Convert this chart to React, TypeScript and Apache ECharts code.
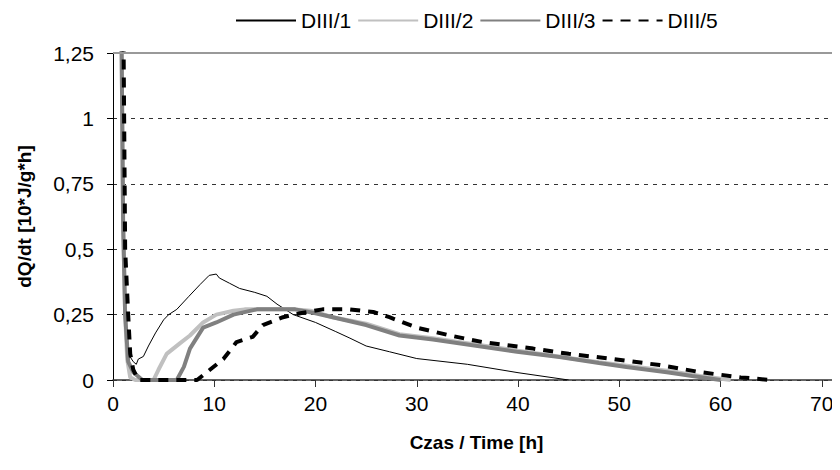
import React, { useEffect, useRef } from "react";
import * as echarts from "echarts";

const seriesNames = ["DIII/1", "DIII/2", "DIII/3", "DIII/5"];
const xTicks = [0, 10, 20, 30, 40, 50, 60, 70];
const yTicks = [0, 0.25, 0.5, 0.75, 1, 1.25];

const d1: number[][] = [
  [0.7, 1.5], [0.9, 1.0], [1.0, 0.5], [1.2, 0.25], [1.5, 0.1], [2.0, 0.07], [2.3, 0.06], [2.5, 0.08],
  [3.0, 0.09], [3.5, 0.13], [4.2, 0.18], [5, 0.23], [5.5, 0.25], [6.3, 0.27], [7.5, 0.32], [8.6, 0.365],
  [9.5, 0.4], [10.2, 0.405], [10.5, 0.39], [11.5, 0.37], [12.5, 0.35], [14, 0.335], [15.2, 0.32],
  [16.2, 0.29], [17.8, 0.25], [20, 0.22], [22, 0.185], [23.4, 0.16], [25, 0.13], [27.3, 0.108],
  [30, 0.082], [35, 0.06], [40, 0.028], [45, 0],
];
const d2: number[][] = [
  [0.8, 1.5], [1.0, 0.6], [1.2, 0.25], [1.4, 0.08], [1.7, 0.01], [2.2, 0], [4, 0], [4.5, 0.04],
  [5.3, 0.1], [6.6, 0.14], [7.6, 0.17], [8.9, 0.22], [10.2, 0.25], [11.9, 0.265], [13, 0.27],
  [15, 0.27], [18, 0.27], [19.5, 0.265], [21.7, 0.24], [25, 0.215], [28.3, 0.175], [31.6, 0.16],
  [40, 0.112], [48, 0.068], [54.7, 0.035], [58, 0.015], [61, 0],
];
const d3: number[][] = [
  [0.8, 1.5], [1.0, 0.6], [1.2, 0.25], [1.5, 0.07], [2.0, 0.03], [2.9, 0], [6.3, 0], [7, 0.05],
  [7.6, 0.12], [8.9, 0.2], [10.2, 0.22], [11.9, 0.25], [14.2, 0.27], [18, 0.27], [20, 0.255],
  [21.7, 0.24], [25, 0.21], [28.3, 0.17], [31.6, 0.155], [39.9, 0.108], [44.1, 0.088], [48, 0.065],
  [50.7, 0.05], [54.7, 0.03], [57.2, 0.015], [60, 0],
];
const d5: number[][] = [
  [1.0, 1.5], [1.1, 1.0], [1.2, 0.5], [1.5, 0.25], [1.7, 0.1], [2.0, 0.04], [2.5, 0], [8.3, 0],
  [9.6, 0.04], [10.9, 0.08], [12.2, 0.145], [13.8, 0.165], [14.8, 0.21], [16.8, 0.24], [18.5, 0.255],
  [20.7, 0.27], [23.4, 0.27], [25.7, 0.26], [27.3, 0.24], [30, 0.2], [33.3, 0.17], [36.5, 0.145],
  [41.5, 0.12], [45, 0.1], [49, 0.082], [54, 0.057], [58, 0.03], [62, 0.01], [65, 0],
];

const FONT = "Liberation Sans, Arial, sans-serif";

export default function App() {
  const ref = useRef<HTMLDivElement>(null);
  useEffect(() => {
    if (!ref.current) return;
    const chart = echarts.init(ref.current, undefined, { renderer: "svg" });
    const base = { type: "line", showSymbol: false, symbol: "none", smooth: false, clip: true };
    chart.setOption({
      animation: false,
      backgroundColor: "#fff",
      textStyle: { fontFamily: FONT },
      legend: {
        left: 235,
        top: 10,
        padding: 0,
        itemWidth: 60,
        itemHeight: 14,
        itemGap: 6,
        itemStyle: { opacity: 0 },
        textStyle: { fontSize: 21, color: "#000", fontFamily: FONT },
        data: seriesNames,
      },
      grid: { left: 113, right: 0, top: 53, bottom: 90 },
      xAxis: {
        type: "value",
        min: 0,
        max: 71.8,
        interval: 10,
        name: "Czas / Time [h]",
        nameLocation: "middle",
        nameGap: 53,
        nameTextStyle: { fontSize: 19, fontWeight: "bold", color: "#000", fontFamily: FONT },
        axisLine: { show: true, lineStyle: { color: "#333", width: 1.5 } },
        axisTick: { show: true, length: 7, lineStyle: { color: "#333" }, customValues: xTicks },
        axisLabel: { fontSize: 21, color: "#000", margin: 13, customValues: xTicks, fontFamily: FONT },
        splitLine: { show: false },
      },
      yAxis: {
        type: "value",
        min: 0,
        max: 1.25,
        interval: 0.25,
        name: "dQ/dt [10*J/g*h]",
        nameLocation: "middle",
        nameGap: 79,
        nameTextStyle: { fontSize: 19, fontWeight: "bold", color: "#000", fontFamily: FONT },
        axisLine: { show: true, lineStyle: { color: "#000", width: 1 } },
        axisTick: { show: true, length: 6, lineStyle: { color: "#000" } },
        axisLabel: {
          fontSize: 21,
          color: "#000",
          margin: 19,
          fontFamily: FONT,
          formatter: (v: number) => String(v).replace(".", ","),
        },
        splitLine: { show: true, lineStyle: { color: "#333", type: [4, 5], width: 1 } },
      },
      series: [
        {
          ...base,
          name: seriesNames[0],
          data: d1,
          lineStyle: { color: "#000", width: 1 },
          itemStyle: { color: "#000" },
          z: 2,
          markLine: {
            silent: true,
            symbol: "none",
            label: { show: false },
            lineStyle: { color: "#999", type: "solid", width: 2 },
            data: [{ yAxis: yTicks[yTicks.length - 1] }],
          },
        },
        {
          ...base,
          name: seriesNames[1],
          data: d2,
          lineStyle: { color: "#c0c0c0", width: 4 },
          itemStyle: { color: "#c0c0c0" },
          z: 3,
        },
        {
          ...base,
          name: seriesNames[2],
          data: d3,
          lineStyle: { color: "#808080", width: 4 },
          itemStyle: { color: "#808080" },
          z: 4,
        },
        {
          ...base,
          name: seriesNames[3],
          data: d5,
          lineStyle: { color: "#000", width: 4, type: [10, 8] },
          itemStyle: { color: "#000" },
          z: 5,
        },
      ],
    });
    return () => chart.dispose();
  }, []);
  return <div ref={ref} style={{ width: 840, height: 470, margin: -8 }} />;
}
